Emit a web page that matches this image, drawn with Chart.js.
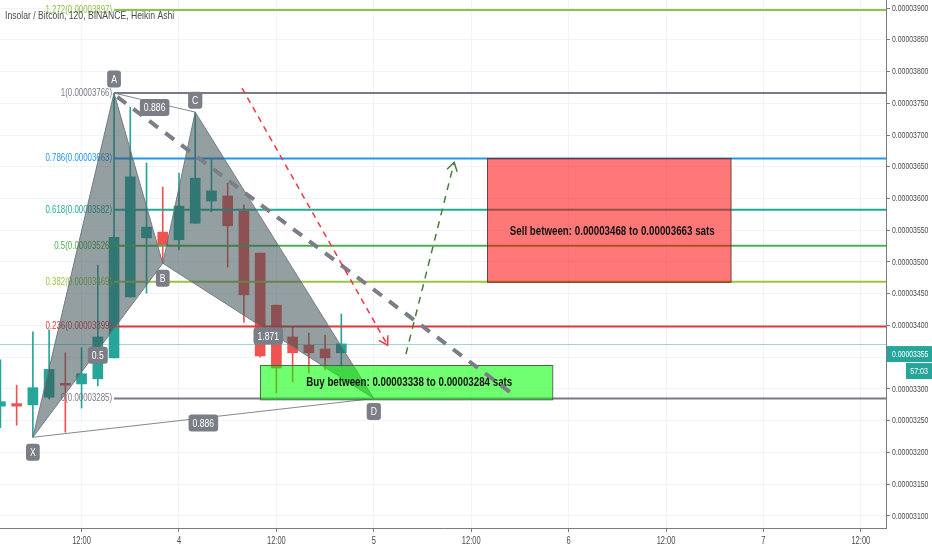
<!doctype html>
<html lang="en">
<head>
    <meta charset="utf-8">
    <title>Insolar / Bitcoin, 120, BINANCE, Heikin Ashi</title>
    <script src="https://cdn.jsdelivr.net/npm/chart.js"></script>
    <style>
        html, body { margin: 0; padding: 0; background: #fff; }
    </style>
</head>
<body>
<canvas id="chart" width="932" height="550"></canvas>
<script>
    // HEIKIN ASHI CANDLES (hours from day 4 00:00, 2h bars)
    const candleHours = [-22, -20, -18, -16, -14, -12, -10, -8, -6, -4, -2, 0, 2, 4, 6, 8, 10, 12, 14, 16, 18, 20]
    const opens  = [0.00003273, 0.00003277, 0.00003275, 0.00003287, 0.00003309, 0.00003308, 0.00003316, 0.00003349, 0.00003445, 0.00003538, 0.00003547, 0.00003535, 0.00003561, 0.00003596, 0.00003604, 0.00003580, 0.00003514, 0.00003432, 0.00003382, 0.00003369, 0.00003363, 0.00003357]
    const highs  = [0.00003346, 0.00003306, 0.00003390, 0.00003393, 0.00003357, 0.00003365, 0.00003495, 0.00003766, 0.00003744, 0.00003656, 0.00003618, 0.00003640, 0.00003736, 0.00003661, 0.00003624, 0.00003590, 0.00003514, 0.00003432, 0.00003398, 0.00003388, 0.00003385, 0.00003418]
    const lows   = [0.00003239, 0.00003243, 0.00003224, 0.00003284, 0.00003232, 0.00003270, 0.00003305, 0.00003349, 0.00003445, 0.00003451, 0.00003498, 0.00003519, 0.00003561, 0.00003579, 0.00003492, 0.00003405, 0.00003350, 0.00003294, 0.00003311, 0.00003325, 0.00003330, 0.00003335]
    const closes = [0.00003280, 0.00003273, 0.00003302, 0.00003331, 0.00003306, 0.00003324, 0.00003382, 0.00003539, 0.00003634, 0.00003555, 0.00003527, 0.00003588, 0.00003632, 0.00003612, 0.00003557, 0.00003448, 0.00003352, 0.00003333, 0.00003357, 0.00003357, 0.00003349, 0.00003371]

    // AXES
    const xTickHours  = [-12, 0, 12, 24, 36, 48, 60, 72, 84]
    const xTickLabels = ['12:00', '4', '12:00', '5', '12:00', '6', '12:00', '7', '12:00']
    const priceTicks  = [0.00003100, 0.00003150, 0.00003200, 0.00003250, 0.00003300, 0.00003350, 0.00003400, 0.00003450, 0.00003500, 0.00003550, 0.00003600, 0.00003650, 0.00003700, 0.00003750, 0.00003800, 0.00003850, 0.00003900]
    const lastPrice = 0.00003355
    const lastTimer = '57:03'

    // FIB RETRACEMENT
    const fibLow = 0.00003285
    const fibHigh = 0.00003766
    const fibStartHour = -8
    const fibRatios = [1.272, 1, 0.786, 0.618, 0.5, 0.382, 0.236, 0]
    const fibColors = ['#8bc34a', '#787b86', '#2196f3', '#22ab94', '#4caf50', '#9bc53d', '#e53935', '#787b86']

    // XABCD PATTERN
    const patternNames  = ['X', 'A', 'B', 'C', 'D']
    const patternHours  = [-18, -8, -2, 2, 24]
    const patternPrices = [0.00003224, 0.00003766, 0.00003498, 0.00003736, 0.00003285]
    const legPairs  = [['X', 'B'], ['A', 'C'], ['B', 'D'], ['X', 'D']]
    const legRatios = ['0.5', '0.886', '1.871', '0.886']

    // ZONES
    const zoneLabels = ['Buy between: 0.00003338 to 0.00003284 sats', 'Sell between: 0.00003468 to 0.00003663 sats']
    const zoneFrom   = [10, 38]
    const zoneTo     = [46, 68]
    const zoneLow    = [0.00003284, 0.00003468]
    const zoneHigh   = [0.00003338, 0.00003663]

    // PROJECTION ARROWS [fromHour, fromPrice, toHour, toPrice]
    const projGray  = [-7.6, 0.00003760, 40.8, 0.00003295]
    const projRed   = [7.76, 0.00003774, 25.7, 0.00003369]
    const projGreen = [27.96, 0.00003355, 33.9, 0.00003657]

    const FONT = '"Liberation Sans", Arial, sans-serif'
    const SQUEEZE = 0.75
    const UP = '#26a69a'
    const DOWN = '#ef5350'

    const candleColors = opens.map((o, i) => closes[i] >= o ? UP : DOWN)

    // text is drawn a bit narrower, like the snapshot
    function drawText(ctx, str, x, y, size, color, align, weight) {
        ctx.save()
        ctx.font = (weight || 'normal') + ' ' + size + 'px ' + FONT
        ctx.fillStyle = color
        ctx.textAlign = align || 'left'
        ctx.textBaseline = 'middle'
        ctx.translate(x, y)
        ctx.scale(SQUEEZE, 1)
        ctx.fillText(str, 0, 0)
        ctx.restore()
    }

    function tag(ctx, str, cx, cy) {
        ctx.font = '11.5px ' + FONT
        const w = ctx.measureText(str).width * SQUEEZE + 8
        const h = 17
        ctx.fillStyle = '#7b7e87'
        ctx.beginPath()
        ctx.roundRect(cx - w / 2, cy - h / 2, w, h, 3)
        ctx.fill()
        drawText(ctx, str, cx, cy + 0.5, 11.5, '#ffffff', 'center')
    }

    function arrowLine(ctx, p, color, width, dash, head) {
        const [x1, y1, x2, y2] = p
        ctx.strokeStyle = color
        ctx.lineWidth = width
        ctx.setLineDash(dash)
        ctx.beginPath()
        ctx.moveTo(x1, y1)
        ctx.lineTo(x2, y2)
        ctx.stroke()
        ctx.setLineDash([])
        if (head) {
            const ang = Math.atan2(y2 - y1, x2 - x1)
            ctx.beginPath()
            ctx.moveTo(x2 - head * Math.cos(ang - 0.55), y2 - head * Math.sin(ang - 0.55))
            ctx.lineTo(x2, y2)
            ctx.lineTo(x2 - head * Math.cos(ang + 0.55), y2 - head * Math.sin(ang + 0.55))
            ctx.stroke()
        }
    }

    const annotate = {
        id: 'annotate',
        afterDatasetsDraw(chart) {
            const {ctx, chartArea: a, scales: {x, y}} = chart
            const px = h => x.getPixelForValue(h)
            const py = v => y.getPixelForValue(v)
            const pt = name => {
                const i = patternNames.indexOf(name)
                return [px(patternHours[i]), py(patternPrices[i])]
            }
            ctx.save()
            ctx.beginPath()
            ctx.rect(a.left, a.top, a.width, a.height)
            ctx.clip()

            // last price line
            const ly = Math.round(py(closes[closes.length - 1])) + 0.5
            ctx.strokeStyle = 'rgba(38,166,154,0.45)'
            ctx.lineWidth = 1
            ctx.beginPath()
            ctx.moveTo(a.left, ly)
            ctx.lineTo(a.right, ly)
            ctx.stroke()

            // fib levels
            const fx = px(fibStartHour)
            fibRatios.forEach((r, i) => {
                const v = fibLow + r * (fibHigh - fibLow)
                const yy = py(v)
                ctx.strokeStyle = fibColors[i]
                ctx.lineWidth = 2
                ctx.beginPath()
                ctx.moveTo(fx, yy)
                ctx.lineTo(a.right, yy)
                ctx.stroke()
                drawText(ctx, r + '(' + v.toFixed(8) + ')', fx - 2, yy, 10.5, fibColors[i], 'right')
            })

            // pattern triangles
            const tri = names => {
                ctx.beginPath()
                names.forEach((n, k) => {
                    const [xx, yy] = pt(n)
                    if (k === 0) ctx.moveTo(xx, yy); else ctx.lineTo(xx, yy)
                })
                ctx.closePath()
                ctx.fillStyle = 'rgba(60,80,85,0.55)'
                ctx.fill()
                ctx.strokeStyle = 'rgba(110,115,125,0.9)'
                ctx.lineWidth = 1
                ctx.stroke()
            }
            tri(['X', 'A', 'B'])
            tri(['B', 'C', 'D'])

            // thin legs
            ctx.strokeStyle = 'rgba(120,123,134,0.9)'
            ctx.lineWidth = 1
            ;[['A', 'C'], ['X', 'D']].forEach(([p1, p2]) => {
                const [x1, y1] = pt(p1), [x2, y2] = pt(p2)
                ctx.beginPath()
                ctx.moveTo(x1, y1)
                ctx.lineTo(x2, y2)
                ctx.stroke()
            })

            // zones
            zoneLabels.forEach((label, i) => {
                const x1 = px(zoneFrom[i]), x2 = px(zoneTo[i])
                const y1 = py(zoneHigh[i]), y2 = py(zoneLow[i])
                ctx.fillStyle = i === 0 ? 'rgba(0,255,0,0.56)' : 'rgba(255,0,0,0.53)'
                ctx.fillRect(x1, y1, x2 - x1, y2 - y1)
                ctx.strokeStyle = i === 0 ? 'rgba(70,90,70,0.9)' : 'rgba(100,50,50,0.9)'
                ctx.lineWidth = 1
                ctx.strokeRect(Math.round(x1) + 0.5, Math.round(y1) + 0.5, x2 - x1, y2 - y1)
                const ty = i === 0 ? (y1 + y2) / 2 + 0.5 : (y1 + y2) / 2 + 11
                drawText(ctx, label, (x1 + x2) / 2 + 3, ty, 13, '#111111', 'center', 'bold')
            })

            // projections
            const toPx = p => [px(p[0]), py(p[1]), px(p[2]), py(p[3])]
            arrowLine(ctx, toPx(projGray), '#7b7e87', 4, [11, 9], 0)
            arrowLine(ctx, toPx(projRed), '#f23645', 1.5, [6, 5], 10)
            arrowLine(ctx, toPx(projGreen), '#4a7d3a', 1.5, [7, 6], 10)

            // leg ratio tags
            legPairs.forEach(([p1, p2], i) => {
                const [x1, y1] = pt(p1), [x2, y2] = pt(p2)
                tag(ctx, legRatios[i], (x1 + x2) / 2, (y1 + y2) / 2 + 5)
            })
            // point tags
            const tagOffset = {X: 15, A: -14, B: 15, C: -12, D: 13}
            patternNames.forEach(n => {
                const [xx, yy] = pt(n)
                tag(ctx, n, xx, yy + tagOffset[n])
            })

            ctx.restore()
        },
        afterDraw(chart) {
            const {ctx, chartArea: a, scales: {x, y}} = chart
            drawText(ctx, 'Insolar / Bitcoin, 120, BINANCE, Heikin Ashi', 5, 16, 11.5, '#4a4a4a', 'left')

            // axis labels
            x.ticks.forEach((t, i) => {
                drawText(ctx, xTickLabels[i], x.getPixelForValue(t.value), a.bottom + 13, 10, '#4a4a4a', 'center')
            })
            y.ticks.forEach(t => {
                drawText(ctx, t.value.toFixed(8), a.right + 6, y.getPixelForValue(t.value), 9.2, '#4a4a4a', 'left')
            })

            // price tag on the axis
            const ty = y.getPixelForValue(lastPrice)
            ctx.fillStyle = UP
            ctx.fillRect(a.right + 1, ty - 8, chart.width - a.right, 16)
            ctx.fillRect(a.right + 20, ty + 9, chart.width - a.right - 20, 16)
            drawText(ctx, lastPrice.toFixed(8), a.right + 6, ty, 9.2, '#ffffff', 'left')
            drawText(ctx, lastTimer, chart.width - 4, ty + 17, 9.5, '#ffffff', 'right')
        }
    }

    new Chart(document.getElementById('chart').getContext('2d'), {
        type: 'bar',
        plugins: [annotate],
        data: {
            datasets: [{
                data: candleHours.map((h, i) => ({x: h, y: [opens[i], closes[i]]})),
                backgroundColor: candleColors,
                barThickness: 10,
                grouped: false,
                order: 0
            }, {
                data: candleHours.map((h, i) => ({x: h, y: [lows[i], highs[i]]})),
                backgroundColor: candleColors,
                barThickness: 1,
                grouped: false,
                order: 1
            }]
        },
        options: {
            responsive: false,
            animation: false,
            layout: {padding: 0},
            plugins: {
                legend: {display: false},
                tooltip: {enabled: false}
            },
            scales: {
                x: {
                    type: 'linear',
                    min: -22.05,
                    max: 87.1,
                    offset: false,
                    grid: {color: '#f0f3f8', offset: false, tickLength: 4, tickColor: '#787b86'},
                    border: {color: '#787b86'},
                    ticks: {display: false},
                    afterBuildTicks: s => { s.ticks = xTickHours.map(v => ({value: v})) },
                    afterFit: s => { s.height = 22 }
                },
                y: {
                    type: 'linear',
                    position: 'right',
                    min: 0.0000308110,
                    max: 0.0000391260,
                    grid: {color: '#f0f3f8', tickLength: 4, tickColor: '#787b86'},
                    border: {color: '#787b86'},
                    ticks: {display: false},
                    afterBuildTicks: s => { s.ticks = priceTicks.map(v => ({value: v})) },
                    afterFit: s => { s.width = 46 }
                }
            }
        }
    })
</script>
</body>
</html>
